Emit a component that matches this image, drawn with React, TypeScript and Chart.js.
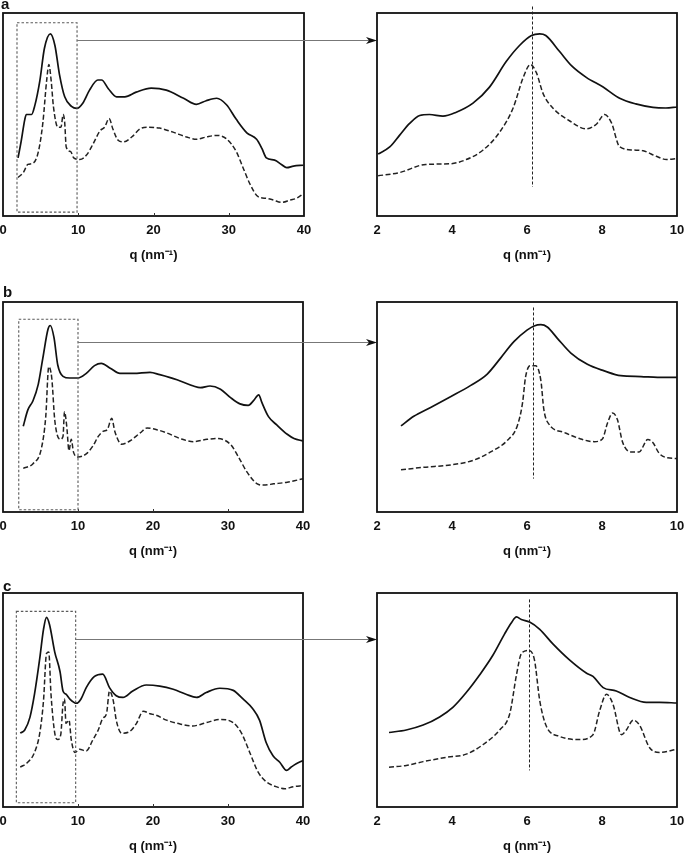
import React, { useEffect, useRef } from "react";
import { Chart, registerables } from "chart.js";
Chart.register(...registerables);

// ---------------- data ----------------
const FULL_TICKS = [0, 10, 20, 30, 40];
const ZOOM_TICKS = [2, 4, 6, 8, 10];
const PANEL_LETTERS = ["a", "b", "c"];
const AXIS_TITLE = "q (nm\u207B\u00B9)";

// panel a
const A_FULL_SOLID_Q = [2.0, 2.4, 2.9, 3.1, 3.8, 4.2, 4.9, 5.5, 6.3, 6.9, 7.5, 8.2, 9.1, 9.8, 10.6, 11.5, 12.6, 13.1, 14.0, 15.1, 16.2, 17.7, 19.7, 21.7, 24.0, 25.7, 27.0, 28.4, 29.7, 31.0, 32.4, 33.7, 34.4, 35.0, 36.1, 37.0, 37.7, 38.6, 39.9];
const A_FULL_SOLID_I = [28.6, 36.5, 47.6, 50, 50, 54, 66.7, 82.5, 89.7, 84, 69.8, 58.7, 54, 53, 55.6, 62, 67, 67, 62.7, 58.7, 58.7, 61, 63, 62, 58, 55, 56.8, 58, 54.8, 47.6, 41, 37.8, 33.3, 28.6, 27.5, 25.4, 23.8, 24.6, 25];
const A_FULL_DASH_Q = [2.0, 2.7, 3.3, 4.0, 4.7, 5.3, 5.8, 6.1, 6.4, 6.7, 7.3, 7.7, 8.0, 8.2, 8.4, 9.0, 9.4, 10.2, 11.1, 12.0, 12.9, 13.5, 14.1, 14.6, 15.3, 16.0, 17.1, 18.2, 19.1, 20.8, 22.6, 24.4, 25.7, 27.0, 28.4, 29.7, 31.0, 31.9, 32.8, 33.9, 35.0, 35.9, 37.0, 38.2, 39.0, 39.9];
const A_FULL_DASH_I = [19, 21.4, 25.4, 26, 31.7, 46, 66.7, 74.6, 66.7, 54, 43.7, 43.7, 50, 46, 34, 31.7, 28.6, 27.8, 30, 35.7, 42, 43.7, 48, 42.9, 37.3, 36.5, 38.9, 42.9, 43.7, 43.3, 41.3, 38.9, 37.8, 38.9, 39.7, 38, 31.7, 23.8, 15.9, 9.5, 8.7, 7.9, 6.7, 7.9, 8.7, 11];
const A_ZOOM_SOLID_Q = [2.03, 2.34, 2.6, 2.87, 3.14, 3.4, 3.76, 4.1, 4.56, 5.0, 5.45, 5.8, 6.12, 6.34, 6.5, 6.87, 7.2, 7.58, 8.03, 8.47, 8.9, 9.36, 9.7, 10.0];
const A_ZOOM_SOLID_I = [30.5, 34, 39.7, 45.6, 49.5, 50, 49.2, 51, 55.6, 63.5, 76.2, 84, 88.9, 89.7, 88.9, 81, 73.8, 68.3, 63.5, 58, 55.2, 53.5, 53.2, 53.7];
const A_ZOOM_DASH_Q = [2.03, 2.6, 3.3, 3.94, 4.38, 4.83, 5.27, 5.63, 5.9, 6.09, 6.25, 6.43, 6.69, 7.14, 7.58, 7.85, 8.07, 8.25, 8.47, 8.83, 9.1, 9.45, 9.72, 10.0];
const A_ZOOM_DASH_I = [19.8, 21.4, 25.4, 25.7, 27.8, 32.5, 41.3, 53.2, 68.3, 74.6, 70.6, 60.3, 53.2, 46.8, 42.9, 45.2, 50, 46, 34.1, 32.5, 32.1, 29.4, 27.8, 28.3];

// panel b
const B_FULL_SOLID_Q = [2.7, 3.3, 4.0, 4.7, 5.3, 6.0, 6.3, 6.8, 7.3, 8.0, 8.9, 10.0, 11.1, 12.2, 13.1, 14.3, 15.6, 17.4, 19.6, 20.9, 23.2, 25.4, 26.3, 27.6, 29.0, 30.3, 31.6, 32.7, 33.4, 34.1, 34.5, 35.4, 36.5, 37.9, 38.8, 40.0];
const B_FULL_SOLID_I = [40.8, 48.5, 53, 60.8, 73, 87, 88.8, 83, 70, 64.6, 63.8, 63.8, 66, 69.7, 70.8, 68.5, 66, 66, 66.5, 65.4, 63, 60, 59.2, 60, 58.5, 54.6, 51.5, 50.8, 53, 55.8, 52.3, 45.4, 41.5, 37, 35, 33.8];
const B_FULL_DASH_Q = [2.7, 4.0, 5.1, 5.7, 6.1, 6.5, 6.9, 7.6, 8.0, 8.2, 8.5, 8.8, 9.1, 9.4, 10.0, 11.1, 12.0, 12.7, 13.4, 13.9, 14.5, 14.9, 15.8, 16.9, 18.3, 19.2, 20.5, 21.8, 23.6, 25.4, 27.2, 28.5, 30.3, 31.4, 32.5, 33.9, 34.7, 36.1, 37.9, 40.0];
const B_FULL_DASH_I = [20.8, 23, 30, 45.4, 69.2, 63.8, 43.8, 34.6, 36, 47.7, 40.8, 29.2, 34.6, 28.5, 26.2, 27.7, 31.5, 36, 38.5, 39.2, 44.6, 38.5, 32.3, 33.8, 37.7, 40, 39.2, 37.7, 35, 33.5, 34.6, 35, 32.3, 26.2, 19.2, 13.4, 12.8, 13.4, 14.2, 15.8];
const B_ZOOM_SOLID_Q = [2.64, 2.98, 3.43, 3.96, 4.5, 4.94, 5.3, 5.65, 6.0, 6.19, 6.37, 6.54, 6.81, 7.17, 7.61, 8.06, 8.5, 9.04, 9.48, 10.0];
const B_ZOOM_SOLID_I = [41, 45.6, 49.8, 54.9, 60.3, 65.7, 73.4, 81.1, 86.6, 88.6, 89.2, 88.1, 82.7, 75.7, 70.3, 67.2, 64.9, 64.5, 64.1, 64.1];
const B_ZOOM_DASH_Q = [2.64, 3.25, 3.96, 4.58, 5.03, 5.47, 5.74, 5.88, 5.96, 6.08, 6.23, 6.37, 6.45, 6.59, 6.99, 7.43, 7.79, 8.01, 8.15, 8.28, 8.41, 8.55, 8.77, 8.99, 9.22, 9.35, 9.53, 9.75, 10.0];
const B_ZOOM_DASH_I = [20.1, 21.3, 22.4, 24.7, 28.6, 34, 41, 51.8, 64.1, 69.6, 69.6, 62.6, 48.7, 41.7, 37.9, 34.8, 33.5, 34.8, 42.5, 47.1, 44, 33.2, 28.6, 28.6, 34.5, 33.2, 27.8, 25.8, 25.5];

// panel c
const C_FULL_SOLID_Q = [2.3, 2.9, 3.6, 4.2, 4.9, 5.4, 5.8, 6.2, 6.9, 7.6, 8.0, 8.4, 8.9, 9.8, 10.4, 11.1, 12.2, 13.3, 14.2, 15.1, 16.0, 17.3, 19.1, 20.9, 22.7, 24.4, 25.8, 27.1, 28.9, 30.7, 32.0, 33.3, 34.2, 35.1, 36.0, 36.9, 37.8, 38.4, 39.1, 40.0];
const C_FULL_SOLID_I = [34.5, 36, 42, 52.7, 69.4, 83, 88.6, 85.3, 72.4, 63.3, 54.2, 52.7, 50.5, 48.5, 50.5, 55.8, 61, 62.1, 55.8, 52, 51.2, 54.2, 57, 56.5, 55, 52.7, 51.2, 53.5, 55.5, 54.5, 50.5, 45.9, 40.6, 30, 23.9, 20.9, 17.1, 18.6, 20.2, 21.7];
const C_FULL_DASH_Q = [2.3, 3.3, 4.2, 4.9, 5.4, 5.8, 6.1, 6.4, 6.9, 7.3, 7.7, 8.0, 8.2, 8.4, 8.8, 9.1, 9.6, 10.2, 11.1, 12.0, 12.7, 13.3, 13.8, 14.2, 14.7, 15.1, 15.8, 16.9, 17.8, 18.7, 19.6, 20.4, 21.8, 23.6, 25.3, 27.1, 28.9, 30.7, 31.8, 32.9, 34.0, 35.1, 36.4, 37.6, 38.7, 40.0];
const C_FULL_DASH_I = [18.6, 20.9, 25.5, 34.5, 49.7, 71.7, 72.4, 52.7, 34.5, 31.5, 33.8, 48.2, 50.5, 39.1, 40.6, 31.5, 25.5, 27, 26.2, 31.5, 36, 41.4, 43.6, 54.2, 49.7, 40.6, 34.5, 35.3, 39.1, 44.8, 43.6, 42.9, 40.6, 38.8, 37.9, 39.4, 40.9, 39.4, 34.5, 25.5, 16.4, 11.8, 9.5, 8.5, 9.5, 10];
const C_ZOOM_SOLID_Q = [2.32, 2.78, 3.23, 3.67, 4.03, 4.38, 4.74, 5.09, 5.4, 5.58, 5.72, 5.85, 6.07, 6.34, 6.69, 7.14, 7.58, 7.76, 8.03, 8.38, 8.74, 9.18, 9.54, 10.0];
const C_ZOOM_SOLID_I = [34.8, 36, 38.3, 42.1, 46.7, 53.5, 61.8, 70.9, 80.8, 86, 88.8, 87.6, 86.4, 83, 76.2, 68.6, 62.6, 61, 55.8, 54.2, 51.2, 48.9, 48.9, 48.6];
const C_ZOOM_DASH_Q = [2.32, 2.78, 3.23, 3.85, 4.38, 4.83, 5.27, 5.54, 5.72, 5.85, 6.05, 6.2, 6.34, 6.52, 6.87, 7.4, 7.76, 7.94, 8.12, 8.29, 8.52, 8.65, 8.83, 9.0, 9.27, 9.54, 10.0];
const C_ZOOM_DASH_I = [18.6, 19.4, 21.2, 23.2, 24.7, 29.2, 36, 43.6, 61.8, 71.7, 73.2, 68.6, 49.7, 37.6, 33, 31.5, 33.8, 45.2, 52.7, 48.2, 33.8, 36, 40.6, 38.3, 27.7, 25.5, 27];

// annotations (data units)
const ZOOM_BOX_Q = [[1.86, 9.84], [2.1, 10.0], [1.78, 9.69]];
const ZOOM_BOX_I = [[1.9, 95.2], [1.1, 91.8], [2.0, 91.4]];
const ARROW_I = [86.5, 81, 78.5];
const MARKER_Q = [6.12, 6.17, 6.04];
const MARKER_I = [[14.3, 103.2], [15.9, 97.4], [17.1, 97]];

// ---------------- layout ----------------
const FONT = "'Liberation Sans', Arial, Helvetica, sans-serif";
const AXIS_H = 43;
const ROWS = [
  { top: 13, bottom: 222, canvasTop: 0, fullRight: 304, letterX: 1, letterY: 9 },
  { top: 302, bottom: 518, canvasTop: 280, fullRight: 303, letterX: 3, letterY: 297 },
  { top: 593, bottom: 813, canvasTop: 575, fullRight: 303, letterX: 3, letterY: 591 },
];
const FULL_LEFT = 3;
const ZOOM_LEFT = 377;
const ZOOM_RIGHT = 677;
const FULL_CANVAS = [-30, 410];
const ZOOM_CANVAS = [340, 710];

type PanelDef = {
  row: number;
  full: boolean;
  solidQ: number[];
  solidI: number[];
  dashQ: number[];
  dashI: number[];
};

const PANELS: PanelDef[] = [
  { row: 0, full: true, solidQ: A_FULL_SOLID_Q, solidI: A_FULL_SOLID_I, dashQ: A_FULL_DASH_Q, dashI: A_FULL_DASH_I },
  { row: 0, full: false, solidQ: A_ZOOM_SOLID_Q, solidI: A_ZOOM_SOLID_I, dashQ: A_ZOOM_DASH_Q, dashI: A_ZOOM_DASH_I },
  { row: 1, full: true, solidQ: B_FULL_SOLID_Q, solidI: B_FULL_SOLID_I, dashQ: B_FULL_DASH_Q, dashI: B_FULL_DASH_I },
  { row: 1, full: false, solidQ: B_ZOOM_SOLID_Q, solidI: B_ZOOM_SOLID_I, dashQ: B_ZOOM_DASH_Q, dashI: B_ZOOM_DASH_I },
  { row: 2, full: true, solidQ: C_FULL_SOLID_Q, solidI: C_FULL_SOLID_I, dashQ: C_FULL_DASH_Q, dashI: C_FULL_DASH_I },
  { row: 2, full: false, solidQ: C_ZOOM_SOLID_Q, solidI: C_ZOOM_SOLID_I, dashQ: C_ZOOM_DASH_Q, dashI: C_ZOOM_DASH_I },
];

function geom(def: PanelDef) {
  const r = ROWS[def.row];
  const [cx0, cx1] = def.full ? FULL_CANVAS : ZOOM_CANVAS;
  const aL = def.full ? FULL_LEFT : ZOOM_LEFT;
  const aR = def.full ? r.fullRight : ZOOM_RIGHT;
  return {
    x: cx0,
    y: r.canvasTop,
    w: cx1 - cx0,
    h: r.bottom - r.canvasTop + AXIS_H,
    pad: { left: aL - cx0, right: cx1 - aR, top: r.top - r.canvasTop, bottom: 0 },
  };
}

function toPts(q: number[], v: number[]) {
  return q.map((x, i) => ({ x, y: v[i] }));
}

function PanelChart({ def }: { def: PanelDef }) {
  const ref = useRef<HTMLCanvasElement | null>(null);
  const g = geom(def);
  useEffect(() => {
    const ticks = def.full ? FULL_TICKS : ZOOM_TICKS;
    const row = def.row;
    const tickFont = { family: FONT, size: 13, weight: "bold" as const, lineHeight: "16px" };
    const decor = {
      id: "decor",
      afterDraw(chart: any) {
        const ctx = chart.ctx as CanvasRenderingContext2D;
        const { left, top, right, bottom } = chart.chartArea;
        const xs = chart.scales.x;
        const ys = chart.scales.y;
        ctx.save();
        ctx.setLineDash([]);
        ctx.strokeStyle = "#111";
        ctx.lineWidth = 1.8;
        ctx.strokeRect(left, top, right - left, bottom - top);
        if (def.full) {
          // small inward tick marks
          ctx.lineWidth = 1;
          ctx.strokeStyle = "#333";
          ctx.beginPath();
          ticks.slice(1, -1).forEach((t) => {
            const tx = Math.round(xs.getPixelForValue(t)) + 0.5;
            ctx.moveTo(tx, bottom);
            ctx.lineTo(tx, bottom - 3);
          });
          ctx.stroke();

          const x0 = xs.getPixelForValue(ZOOM_BOX_Q[row][0]);
          const x1 = xs.getPixelForValue(ZOOM_BOX_Q[row][1]);
          const y0 = ys.getPixelForValue(ZOOM_BOX_I[row][0]);
          const y1 = ys.getPixelForValue(ZOOM_BOX_I[row][1]);
          ctx.strokeStyle = "#5a5a5a";
          ctx.lineWidth = 1.1;
          ctx.setLineDash([2.5, 2]);
          ctx.strokeRect(x0, y1, x1 - x0, y0 - y1);
          const ay = Math.round(ys.getPixelForValue(ARROW_I[row])) + 0.5;
          const tip = ZOOM_LEFT - FULL_CANVAS[0];
          ctx.setLineDash([]);
          ctx.strokeStyle = "#777";
          ctx.lineWidth = 1;
          ctx.beginPath();
          ctx.moveTo(x1, ay);
          ctx.lineTo(tip - 8, ay);
          ctx.stroke();
          ctx.fillStyle = "#111";
          ctx.beginPath();
          ctx.moveTo(tip, ay);
          ctx.lineTo(tip - 11, ay - 3.5);
          ctx.lineTo(tip - 8, ay);
          ctx.lineTo(tip - 11, ay + 3.5);
          ctx.closePath();
          ctx.fill();
          const r = ROWS[row];
          ctx.font = `bold 15px ${FONT}`;
          ctx.textBaseline = "alphabetic";
          ctx.textAlign = "left";
          ctx.fillStyle = "#111";
          ctx.fillText(PANEL_LETTERS[row], r.letterX - FULL_CANVAS[0], r.letterY - r.canvasTop);
        } else {
          const mx = Math.round(xs.getPixelForValue(MARKER_Q[row])) + 0.5;
          ctx.strokeStyle = "#222";
          ctx.lineWidth = 1;
          ctx.setLineDash([3, 2]);
          ctx.beginPath();
          ctx.moveTo(mx, ys.getPixelForValue(MARKER_I[row][1]));
          ctx.lineTo(mx, ys.getPixelForValue(MARKER_I[row][0]));
          ctx.stroke();
        }
        ctx.restore();
      },
    };
    const chart = new Chart(ref.current as HTMLCanvasElement, {
      type: "line",
      data: {
        datasets: [
          {
            data: toPts(def.solidQ, def.solidI),
            borderColor: "#111",
            borderWidth: 1.7,
            pointRadius: 0,
            fill: false,
            cubicInterpolationMode: "monotone",
          },
          {
            data: toPts(def.dashQ, def.dashI),
            borderColor: "#222",
            borderWidth: 1.5,
            borderDash: [5, 2.5],
            pointRadius: 0,
            fill: false,
            cubicInterpolationMode: "monotone",
          },
        ],
      },
      options: {
        animation: false,
        responsive: false,
        devicePixelRatio: 1,
        events: [],
        layout: { padding: g.pad },
        plugins: { legend: { display: false }, tooltip: { enabled: false } },
        scales: {
          x: {
            type: "linear",
            min: ticks[0],
            max: ticks[ticks.length - 1],
            ticks: {
              stepSize: ticks[1] - ticks[0],
              autoSkip: false,
              maxRotation: 0,
              padding: 6,
              color: "#111",
              font: tickFont,
            },
            grid: { display: false, drawTicks: false },
            border: { display: false },
            title: {
              display: true,
              text: AXIS_TITLE,
              color: "#111",
              font: tickFont,
              padding: { top: 3, bottom: 2 },
            },
          },
          y: { type: "linear", display: false, min: 0, max: 100 },
        },
      },
      plugins: [decor],
    } as any);
    return () => chart.destroy();
  }, []);
  return (
    <canvas
      ref={ref}
      width={g.w}
      height={g.h}
      style={{ position: "absolute", left: g.x, top: g.y, width: g.w, height: g.h }}
    />
  );
}

export default function App() {
  return (
    <div
      style={{
        position: "absolute",
        left: 0,
        top: 0,
        width: 685,
        height: 854,
        overflow: "hidden",
        background: "#fff",
      }}
    >
      {PANELS.map((p, i) => (
        <PanelChart key={i} def={p} />
      ))}
    </div>
  );
}
